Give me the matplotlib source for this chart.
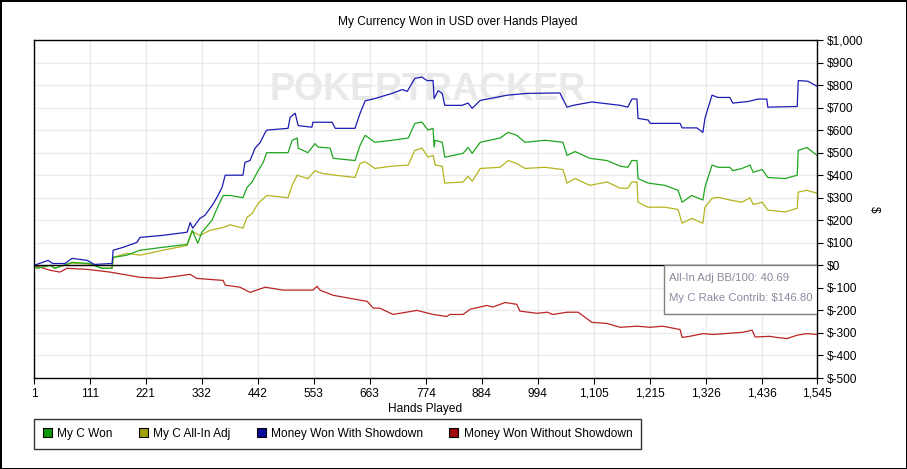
import matplotlib
matplotlib.use("Agg")
import matplotlib.pyplot as plt
from matplotlib.patches import Rectangle, Patch
from matplotlib.ticker import FuncFormatter

plt.rcParams['font.family'] = ['Liberation Sans', 'DejaVu Sans']

# values, hand number -> dollars
blue_h = [1, 29, 38, 62, 76, 106, 120, 155, 157, 177, 204, 210, 255, 303, 309, 314,
          328, 338, 352, 362, 372, 378, 413, 417, 427, 437, 447, 457, 460, 502, 506,
          516, 522, 549, 551, 589, 595, 634, 644, 654, 673, 707, 727, 737, 752, 766,
          776, 788, 790, 798, 806, 811, 845, 857, 865, 881, 934, 973, 1038, 1052,
          1064, 1101, 1157, 1172, 1180, 1190, 1192, 1212, 1216, 1275, 1279, 1308,
          1320, 1324, 1330, 1338, 1350, 1373, 1379, 1409, 1429, 1446, 1448, 1506,
          1508, 1527, 1545]
blue_v = [0, 22, 8, 8, 31, 22, 4, 8, 67, 80, 102, 124, 133, 147, 190, 165,
          208, 222, 265, 302, 347, 400, 400, 457, 465, 520, 545, 590, 600, 608, 657,
          675, 620, 613, 635, 635, 608, 608, 675, 730, 740, 763, 780, 772, 830, 835,
          820, 820, 740, 775, 763, 710, 710, 720, 697, 732, 755, 763, 765, 702,
          710, 725, 710, 702, 738, 738, 652, 645, 630, 630, 610, 610,
          590, 652, 697, 755, 745, 745, 720, 727, 738, 738, 702, 705,
          820, 817, 795]

green_h = [1, 7, 33, 42, 76, 111, 125, 135, 155, 157, 184, 210, 255, 303, 313, 324,
           332, 352, 362, 374, 388, 413, 421, 431, 443, 453, 460, 502, 510, 520,
           522, 541, 555, 561, 585, 591, 634, 644, 654, 673, 707, 739, 752, 766,
           778, 788, 790, 792, 806, 811, 847, 857, 865, 881, 920, 936, 953, 969,
           1009, 1044, 1052, 1068, 1097, 1131, 1157, 1172, 1180, 1190, 1192, 1212,
           1245, 1271, 1279, 1298, 1320, 1324, 1338, 1350, 1373, 1379, 1397, 1413,
           1419, 1437, 1448, 1482, 1506, 1508, 1525, 1545]
green_v = [0, -13, 0, -13, 13, 8, -5, -13, -13, 35, 45, 67, 80, 93, 155, 98,
           147, 200, 253, 310, 310, 300, 345, 370, 420, 457, 500, 500, 555, 565,
           520, 500, 540, 525, 520, 475, 465, 533, 577, 546, 555, 565, 630, 636,
           600, 608, 525, 555, 546, 480, 497, 523, 497, 546, 565, 590, 577, 546,
           555, 546, 488, 505, 475, 465, 440, 435, 465, 465, 385, 365,
           355, 333, 280, 310, 290, 345, 445, 435, 435, 420, 430, 445,
           413, 425, 390, 385, 400, 510, 523, 488]

yellow_h = [1, 7, 33, 42, 76, 111, 125, 135, 155, 157, 184, 210, 255, 303, 313,
            328, 348, 374, 388, 413, 421, 431, 443, 460, 502, 510, 520, 541, 555,
            569, 595, 634, 644, 654, 673, 707, 739, 752, 766, 778, 788, 792, 806,
            811, 847, 857, 865, 881, 920, 936, 953, 969, 1009, 1044, 1052, 1068,
            1097, 1131, 1157, 1172, 1180, 1190, 1192, 1212, 1245, 1271, 1279, 1298,
            1320, 1324, 1338, 1350, 1373, 1397, 1413, 1419, 1437, 1448, 1482, 1506,
            1508, 1525, 1545]
yellow_v = [0, -13, 0, -13, 10, 5, -5, -13, -13, 35, 53, 45, 67, 88, 150,
            133, 155, 168, 180, 165, 213, 230, 275, 310, 300, 355, 400, 385, 420,
            408, 400, 390, 452, 460, 430, 440, 445, 510, 520, 480, 488, 445, 440,
            365, 370, 395, 373, 430, 435, 465, 452, 430, 435, 425, 365, 385,
            355, 370, 342, 342, 370, 370, 280, 258, 258, 248, 187, 208,
            187, 258, 297, 302, 290, 280, 300, 270, 280, 245, 237, 253,
            325, 333, 320]

red_h = [1, 33, 52, 66, 106, 151, 210, 249, 283, 309, 322, 374, 378, 407, 427,
         457, 492, 551, 559, 565, 591, 658, 670, 683, 709, 756,
         788, 815, 821, 847, 861, 894, 906, 930, 953, 959, 993, 1013, 1024, 1052,
         1074, 1101, 1131, 1157, 1190, 1216, 1241, 1275, 1279, 1294, 1320, 1340,
         1399, 1417, 1423, 1452, 1466, 1486, 1506, 1525, 1545]
red_v = [0, -22, -30, -13, -18, -30, -53, -58, -48, -40, -58, -67, -88, -97, -120,
         -97, -110, -110, -93, -110, -133, -160, -190, -190, -218, -200,
         -218, -227, -218, -218, -195, -178, -185, -165, -173, -203, -213, -208, -218, -208,
         -208, -253, -258, -275, -270, -275, -270, -285, -320, -315, -303, -307,
         -297, -288, -318, -315, -320, -325, -310, -303, -307]

x_ticks = [1, 111, 221, 332, 442, 553, 663, 774, 884, 994, 1105, 1215, 1326, 1436, 1545]
y_ticks = list(range(-500, 1001, 100))

series_names = ['My C Won', 'My C All-In Adj', 'Money Won With Showdown', 'Money Won Without Showdown']
line_colors = ['#1fa61f', '#b4b41e', '#1c1cb4', '#bb2424']
box_colors = ['#0a9a0a', '#a0a00a', '#0a0a9a', '#a00a0a']

fig = plt.figure(figsize=(9.07, 4.69), dpi=100)
fig.patch.set_edgecolor('black')
fig.patch.set_linewidth(2)
ax = fig.add_axes([34 / 907, 1 - 378 / 469, 783 / 907, 338 / 469])

ax.set_xlim(1, 1545)
ax.set_ylim(-500, 1000)
ax.set_xticks(x_ticks)
ax.set_yticks(y_ticks)
ax.xaxis.set_major_formatter(FuncFormatter(lambda v, p: f'{int(v):,}'))
ax.yaxis.set_major_formatter(FuncFormatter(lambda v, p: '$' + f'{int(v):,}'))
ax.yaxis.tick_right()
ax.tick_params(axis='both', labelsize=8.6, length=4, width=0.8, pad=3, color='black')
ax.grid(True, color='#ebebeb', linewidth=1)
ax.set_axisbelow(True)
for s in ax.spines.values():
    s.set_linewidth(1)
    s.set_color('black')

# faint watermark
ax.text(0.5026, 0.852, 'POKERTRACKER', transform=ax.transAxes, ha='center', va='center',
        fontsize=27, fontweight='bold', color='#e9e9e9', zorder=0.5)

ax.axhline(0, color='black', linewidth=1, zorder=3)

ax.plot(red_h, red_v, color=line_colors[3], linewidth=0.9, zorder=2)
ax.plot(yellow_h, yellow_v, color=line_colors[1], linewidth=0.9, zorder=2)
ax.plot(green_h, green_v, color=line_colors[0], linewidth=0.9, zorder=2)
ax.plot(blue_h, blue_v, color=line_colors[2], linewidth=0.9, zorder=2)

# stats box
ax.add_patch(Rectangle((630 / 783, 64 / 338), 153 / 783, 49 / 338, transform=ax.transAxes,
                       facecolor='white', edgecolor='#808080', linewidth=1, zorder=4))
ax.text(635 / 783, 100 / 338, 'All-In Adj BB/100: 40.69', transform=ax.transAxes,
        fontsize=8.2, color='#8a8aa0', va='center', zorder=5)
ax.text(635 / 783, 80 / 338, 'My C Rake Contrib: $146.80', transform=ax.transAxes,
        fontsize=8.2, color='#8a8aa0', va='center', zorder=5)

fig.text(458 / 907, 1 - 22 / 469, 'My Currency Won in USD over Hands Played',
         ha='center', va='center', fontsize=8.6)
fig.text(425 / 907, 1 - 409 / 469, 'Hands Played', ha='center', va='center', fontsize=8.6)
fig.text(874 / 907, 1 - 209 / 469, '$', ha='center', va='center', fontsize=8.6, rotation=-90)

handles = [Patch(facecolor=c, edgecolor='black', linewidth=0.8) for c in box_colors]
leg = fig.legend(handles, series_names, loc='upper left', bbox_to_anchor=(34 / 907, 1 - 419 / 469),
                 ncol=4, fontsize=8.6, frameon=True, fancybox=False, edgecolor='black',
                 handlelength=0.75, handleheight=0.75, handletextpad=0.45,
                 columnspacing=2.2, borderpad=0.75, borderaxespad=0)
leg.get_frame().set_linewidth(1)

fig.savefig('out.png', dpi=100)
